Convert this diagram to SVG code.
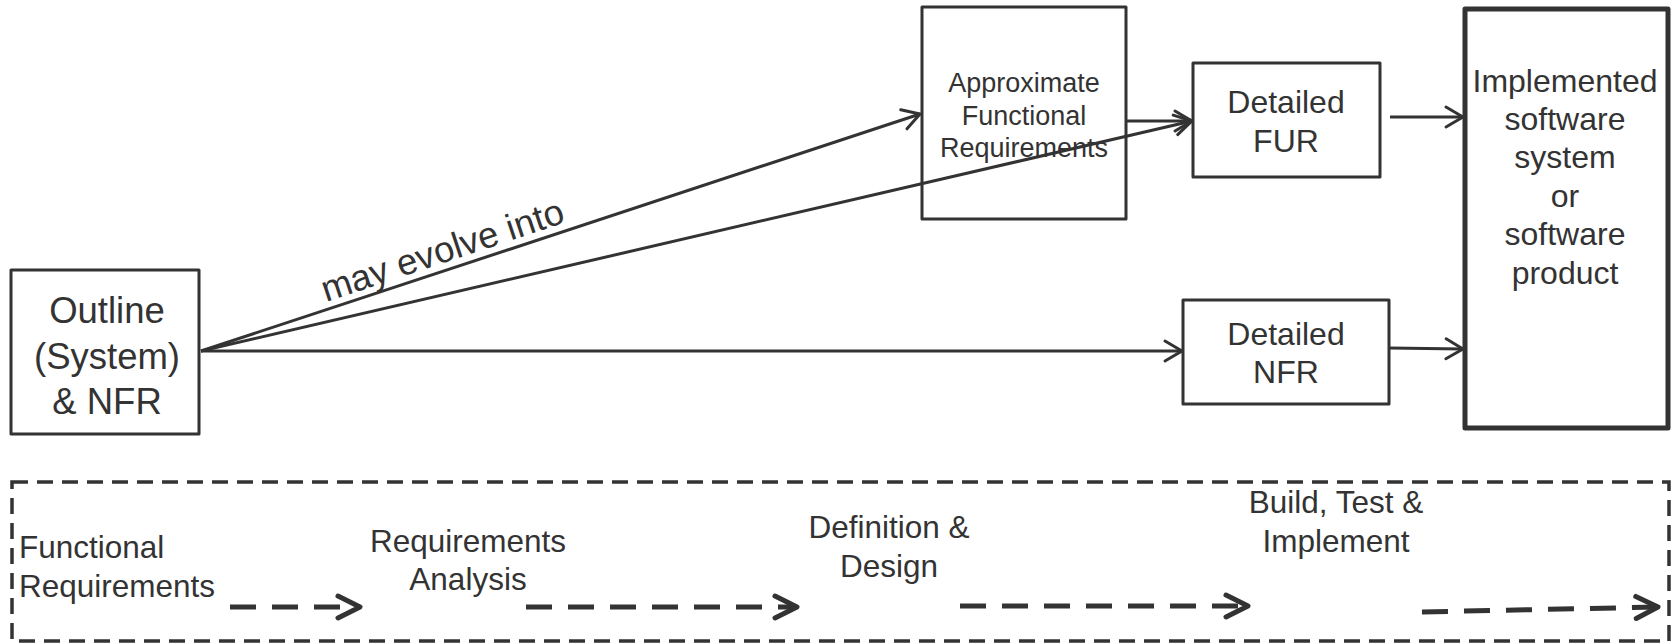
<svg xmlns="http://www.w3.org/2000/svg" width="1675" height="644" viewBox="0 0 1675 644">
<style>
  .box{fill:#fff;stroke:#333;stroke-width:3;stroke-linejoin:round}
  .thick{stroke-width:5}
  .t{font-family:"Liberation Sans",Arial,sans-serif;fill:#333;text-anchor:middle}
  .s36{font-size:36.5px}
  .s32{font-size:32px}
  .s27{font-size:27px}
  .s31{font-size:31.5px}
  .conn{fill:none;stroke:#333;stroke-width:3;marker-end:url(#open)}
  .dconn{fill:none;stroke:#333;stroke-width:5;stroke-dasharray:26 16;marker-end:url(#dopen)}
  .frame{fill:none;stroke:#333;stroke-width:3.5;stroke-dasharray:16 9}
</style>
<defs>
  <marker id="open" markerUnits="userSpaceOnUse" markerWidth="40" markerHeight="40" viewBox="-20 -20 40 40" refX="0" refY="0" orient="auto" overflow="visible">
    <path d="M-17,-10 L0,0 L-17,10" fill="none" stroke="#333" stroke-width="3" stroke-linecap="round" stroke-linejoin="round"/>
  </marker>
  <marker id="dopen" markerUnits="userSpaceOnUse" markerWidth="40" markerHeight="40" viewBox="-20 -20 40 40" refX="0" refY="0" orient="auto" overflow="visible">
    <path d="M-22,-11 L0,0 L-22,11" fill="none" stroke="#333" stroke-width="5" stroke-linecap="round" stroke-linejoin="round" stroke-dasharray="none"/>
  </marker>
</defs>
<rect width="1675" height="644" fill="#fff"/>

<g id="outline">
  <rect class="box" x="11" y="270" width="188" height="164"/>
  <text class="t s36" x="107" y="323">Outline</text>
  <text class="t s36" x="107" y="369">(System)</text>
  <text class="t s36" x="107" y="414">&amp; NFR</text>
</g>
<g id="approx">
  <rect class="box" x="922" y="7" width="204" height="212"/>
  <text class="t s27" x="1024" y="92">Approximate</text>
  <text class="t s27" x="1024" y="125">Functional</text>
  <text class="t s27" x="1024" y="157">Requirements</text>
</g>
<g id="fur">
  <rect class="box" x="1193" y="63" width="187" height="114"/>
  <text class="t s32" x="1286" y="113">Detailed</text>
  <text class="t s32" x="1286" y="152">FUR</text>
</g>
<g id="nfr">
  <rect class="box" x="1183" y="300" width="206" height="104"/>
  <text class="t s32" x="1286" y="345">Detailed</text>
  <text class="t s32" x="1286" y="383">NFR</text>
</g>
<g id="implemented">
  <rect class="box thick" x="1465" y="9" width="203" height="419"/>
  <text class="t s32" x="1565" y="92">Implemented</text>
  <text class="t s32" x="1565" y="130">software</text>
  <text class="t s32" x="1565" y="168">system</text>
  <text class="t s32" x="1565" y="207">or</text>
  <text class="t s32" x="1565" y="245">software</text>
  <text class="t s32" x="1565" y="284">product</text>
</g>

<g id="connectors">
  <path class="conn" d="M201,351 L920,114"/>
  <path class="conn" d="M201,351 L1192,121"/>
  <path class="conn" d="M201,351 L1182,351"/>
  <path class="conn" d="M1127,121 L1192,121"/>
  <path class="conn" d="M1390,117 L1463,117"/>
  <path class="conn" d="M1389,348 L1463,349"/>
  <text class="t s36" style="text-anchor:start" transform="translate(326,302) rotate(-18.4)">may evolve into</text>
</g>

<g id="phases">
  <rect class="frame" x="12" y="482" width="1657" height="159"/>
  <text class="t s31" style="text-anchor:start" x="19" y="558">Functional</text>
  <text class="t s31" style="text-anchor:start" x="19" y="597">Requirements</text>
  <text class="t s31" x="468" y="552">Requirements</text>
  <text class="t s31" x="468" y="590">Analysis</text>
  <text class="t s31" x="889" y="538">Definition &amp;</text>
  <text class="t s31" x="889" y="577">Design</text>
  <text class="t s31" x="1336" y="513">Build, Test &amp;</text>
  <text class="t s31" x="1336" y="552">Implement</text>
</g>
<g id="phase-connectors">
  <path class="dconn" d="M230,607 L360,607"/>
  <path class="dconn" d="M526,607 L797,607"/>
  <path class="dconn" d="M960,606 L1248,606"/>
  <path class="dconn" d="M1422,612 L1658,607"/>
</g>
</svg>
